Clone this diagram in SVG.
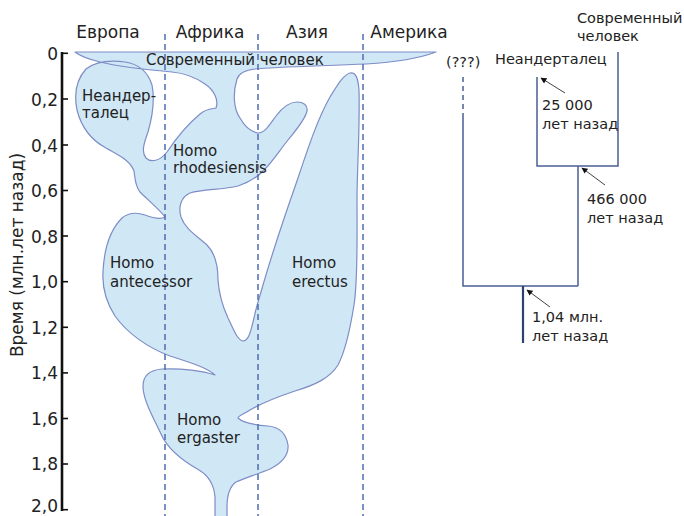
<svg xmlns="http://www.w3.org/2000/svg" width="684" height="516" viewBox="0 0 684 516">
<defs>
<style>
text{font-family:"DejaVu Sans","Liberation Sans",sans-serif;fill:#222}
.hdr{font-size:17px;text-anchor:middle}
.num{font-size:17px;text-anchor:end}
.lbl{font-size:15px}
.tl{font-size:14.5px}
.tick{stroke:#111;stroke-width:1.6}
.col{stroke:#4d6cb0;stroke-width:1.5;stroke-dasharray:6 4;fill:none}
.blob{fill:#d0e7f5;stroke:#7e8dc6;stroke-width:1.2;stroke-linejoin:round}
.tree{stroke:#4a5f95;stroke-width:1.5;fill:none}
.arr{stroke:#111;stroke-width:0.8;fill:none;marker-end:url(#ah)}
</style>
<marker id="ah" viewBox="0 0 10 10" refX="9" refY="5" markerWidth="7" markerHeight="6" markerUnits="userSpaceOnUse" orient="auto">
<path d="M0,0 L10,5 L0,10 Z" fill="#111"/>
</marker>
</defs>

<g id="blobs">
<path class="blob" d="M215,516 L215,497 C214,484 209,476 199,470 C183,461 168,450 161,434 C153,417 143,400 143,386 C143,375 151,370 162,369 C182,368 203,371 215,375 C206,367 188,362 170,356 C148,348 127,333 115,316 C106,302 102,289 103,272 C104,250 110,230 122,218 C128,213 136,212 145,215 C153,218 160,220 165,217 C160,210 148,200 140,192 C135,186 135,178 134,171 C130,160 118,155 106,148 C93,141 82,130 77,110 C74,95 76,80 86,69 C95,62 110,60 125,62 C138,64 148,72 152,85 C155,100 152,118 148,132 C144,143 141,152 146,158 C151,163 160,161 167,152 C175,140 188,124 200,114 C207,108 213,109 216,108 C219,100 214,90 205,84 C195,77 183,73 172,72 C150,70 120,67 100,62 C88,59 80,56 75,52 L436,52 C420,58 400,62 366,64 C320,66 275,67 255,69 C245,70 239,73 237,79 C233,92 233,108 240,118 C245,127 252,132 258,133 C265,133 270,124 276,116 C282,108 290,102 297,102 C303,102 308,105 307,111 C305,120 296,130 288,140 C280,150 272,162 265,169 C258,177 250,182 238,186 C222,190 203,189 190,193 C181,197 178,207 181,217 C185,229 197,236 207,245 C215,253 218,265 218,280 C219,295 222,305 228,318 C233,328 237,340 243,341 C249,341 251,330 254,318 C256,308 258,302 261,292 C270,260 285,215 298,178 C308,148 318,118 330,97 C337,86 343,75 350,73 C356,72 358,78 359,90 C360,130 357,170 357,200 C357,240 358,280 354,305 C350,330 346,350 338,365 C330,378 315,385 295,391 C280,396 262,403 250,410 C244,414 238,416 238,418 C243,423 255,425 268,426 C280,427 286,433 288,445 C289,456 282,463 270,469 C258,474 245,478 236,482 C229,487 227,497 227,507 L227,516"/>
</g>

<g id="columns">
<line class="col" x1="165" y1="34" x2="165" y2="516"/>
<line class="col" x1="258" y1="34" x2="258" y2="516"/>
<line class="col" x1="363" y1="34" x2="363" y2="516"/>
<text class="hdr" x="108" y="38">Европа</text>
<text class="hdr" x="210" y="38">Африка</text>
<text class="hdr" x="307" y="38">Азия</text>
<text class="hdr" x="409" y="38">Америка</text>
</g>

<g id="axis">
<line x1="62" y1="52" x2="62" y2="511" stroke="#111" stroke-width="2.6"/>
<line class="tick" x1="62" y1="53.3" x2="68" y2="53.3"/>
<line class="tick" x1="62" y1="99" x2="68" y2="99"/>
<line class="tick" x1="62" y1="145" x2="68" y2="145"/>
<line class="tick" x1="62" y1="190.5" x2="68" y2="190.5"/>
<line class="tick" x1="62" y1="236" x2="68" y2="236"/>
<line class="tick" x1="62" y1="281.7" x2="68" y2="281.7"/>
<line class="tick" x1="62" y1="327.3" x2="68" y2="327.3"/>
<line class="tick" x1="62" y1="372.9" x2="68" y2="372.9"/>
<line class="tick" x1="62" y1="418.5" x2="68" y2="418.5"/>
<line class="tick" x1="62" y1="464" x2="68" y2="464"/>
<line class="tick" x1="62" y1="509.7" x2="68" y2="509.7"/>
<text class="num" x="58" y="60">0</text>
<text class="num" x="58" y="106">0,2</text>
<text class="num" x="58" y="152">0,4</text>
<text class="num" x="58" y="197">0,6</text>
<text class="num" x="58" y="243">0,8</text>
<text class="num" x="58" y="288">1,0</text>
<text class="num" x="58" y="334">1,2</text>
<text class="num" x="58" y="379">1,4</text>
<text class="num" x="58" y="425">1,6</text>
<text class="num" x="58" y="470">1,8</text>
<text class="num" x="58" y="512">2,0</text>
<text transform="translate(23,255) rotate(-90)" text-anchor="middle" font-size="17">Время (млн.лет назад)</text>
</g>

<g id="labels">
<text class="lbl" x="146" y="65">Современный человек</text>
<text class="lbl" x="82" y="101">Неандер-</text>
<text class="lbl" x="82" y="118">талец</text>
<text class="lbl" x="173" y="156">Homo</text>
<text class="lbl" x="173" y="173">rhodesiensis</text>
<text class="lbl" x="110" y="268">Homo</text>
<text class="lbl" x="110" y="287">antecessor</text>
<text class="lbl" x="292" y="268">Homo</text>
<text class="lbl" x="292" y="287">erectus</text>
<text class="lbl" x="177" y="425">Homo</text>
<text class="lbl" x="177" y="443">ergaster</text>
</g>

<g id="tree">
<g id="node-unknown">
<line class="tree" x1="463" y1="77" x2="463" y2="117" stroke-dasharray="5 4"/>
<text class="tl" x="446" y="67">(???)</text>
</g>
<g id="node-neanderthal">
<text class="tl" x="495" y="64">Неандерталец</text>
</g>
<g id="node-modern">
<text class="tl" x="577" y="23">Современный</text>
<text class="tl" x="577" y="41">человек</text>
</g>
<g id="connectors">
<path class="tree" d="M463,117 L463,286 L578,286 M578,286 L578,166 M537,77 L537,166 L618,166 L618,52"/>
<line x1="523" y1="286" x2="523" y2="343" stroke="#2f416f" stroke-width="2.2"/>
<line class="arr" x1="565" y1="93" x2="541" y2="78"/>
<line class="arr" x1="605" y1="185" x2="582" y2="168"/>
<line class="arr" x1="550" y1="307" x2="527" y2="290"/>
</g>
<g id="dates">
<text class="tl" x="542" y="110">25 000</text>
<text class="tl" x="542" y="129">лет назад</text>
<text class="tl" x="587" y="204">466 000</text>
<text class="tl" x="587" y="223">лет назад</text>
<text class="tl" x="532" y="322">1,04 млн.</text>
<text class="tl" x="532" y="341">лет назад</text>
</g>
</g>
</svg>
